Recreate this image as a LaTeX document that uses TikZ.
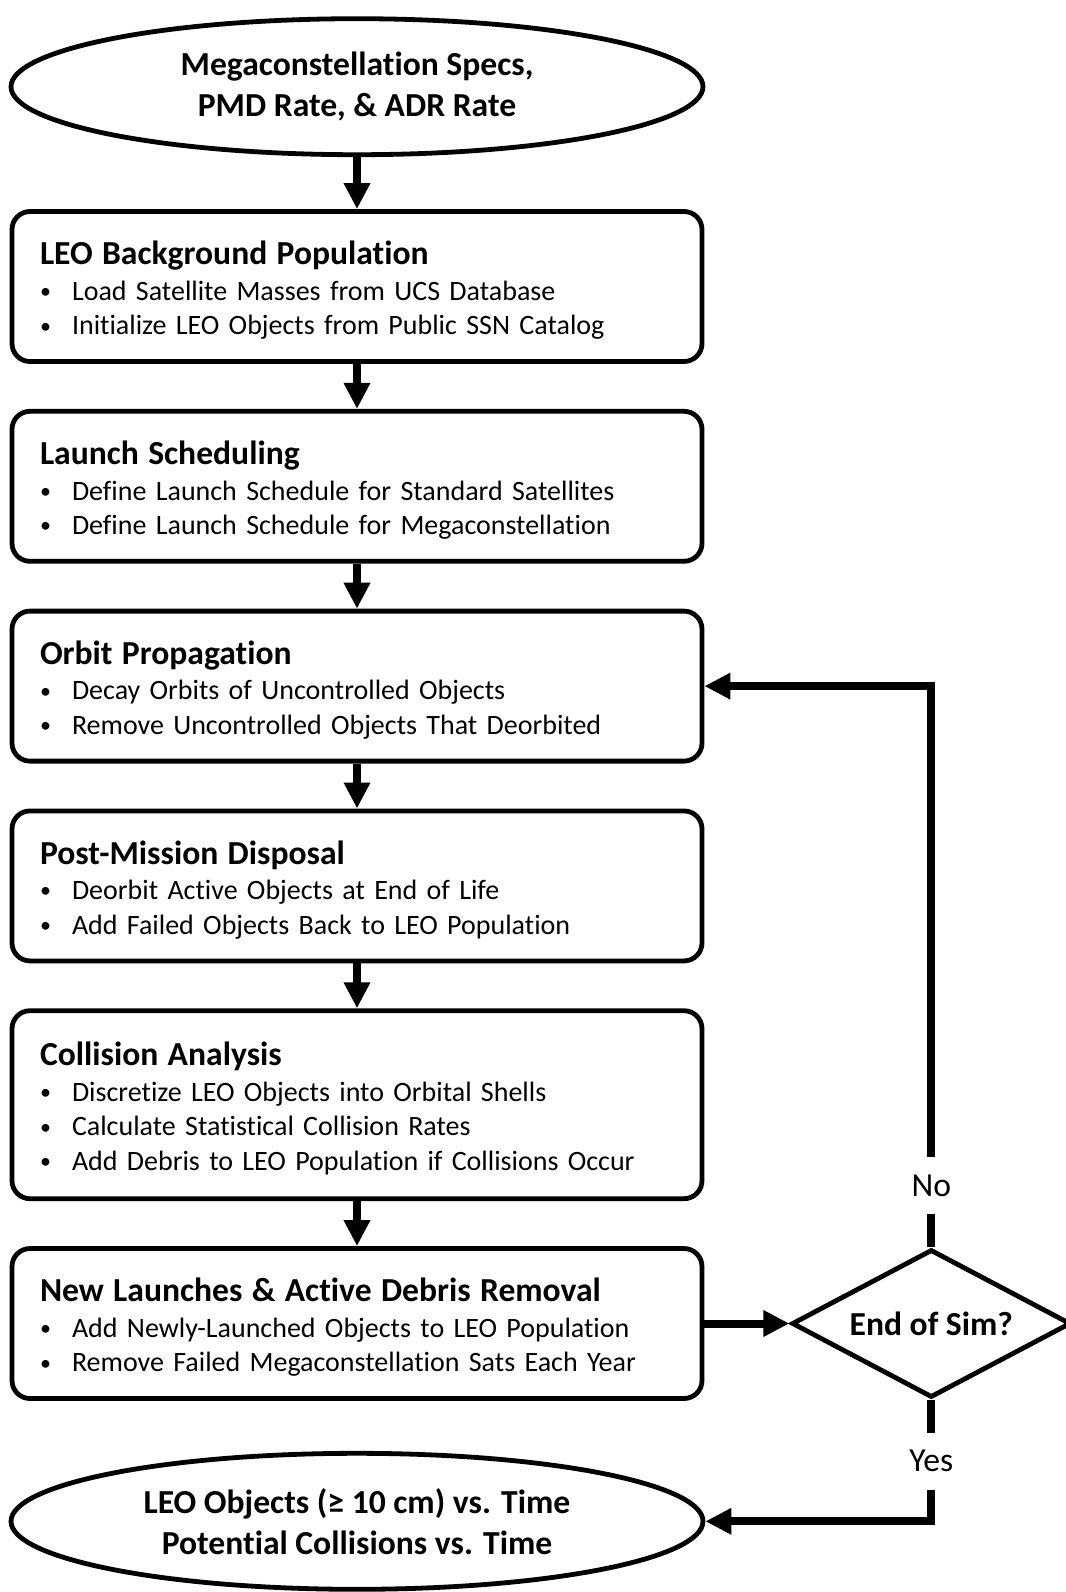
\documentclass[tikz,border=0pt]{standalone}
\usepackage{fontspec}
\setmainfont{Carlito}[Ligatures=NoCommon]
\usetikzlibrary{arrows.meta,positioning,shapes.geometric}
\newcommand{\itm}[1]{\makebox[16pt][l]{\raisebox{0.9pt}{\fontsize{11}{11}\selectfont\textbullet}}#1}
\newcommand{\hd}[1]{{\fontsize{16.8}{19}\selectfont\bfseries\rule{0pt}{15.6pt}#1}}
\tikzset{
  stepbox/.style={draw, line width=2.4pt, rounded corners=9pt, align=left, text width=317pt,
                  inner xsep=14pt, inner ysep=4pt, minimum height=75pt,
                  font=\fontsize{14}{17.3}\selectfont},
  term/.style={draw, ellipse, line width=2.4pt, minimum width=346pt, minimum height=68pt,
               align=center, inner sep=0pt, font=\fontsize{16.8}{20.5}\selectfont\bfseries},
  decide/.style={draw, diamond, shape aspect=1.9, line width=2.4pt, minimum width=139.5pt,
                 minimum height=74pt, inner sep=0pt, font=\fontsize{16.8}{20}\selectfont\bfseries},
  arr/.style={-{Triangle[length=13pt,width=12.5pt]}, line width=4pt},
  lnk/.style={line width=4pt},
  lbl/.style={font=\fontsize{16.8}{20}\selectfont, inner sep=0pt, minimum height=28pt},
}
\begin{document}
\begin{tikzpicture}[x=0.5pt, y=-0.5pt, node distance=22.5pt]
  \useasboundingbox (0,0) rectangle (1066,1592);
  \node[stepbox] (bg) at (357,286.5) {\hd{LEO Background Population}\\[0.5pt]
    \itm{Load Satellite Masses from UCS Database}\\
    \itm{Initialize LEO Objects from Public SSN Catalog}};
  \node[term, above=26pt of bg] (specs) {Megaconstellation Specs,\\PMD Rate, \& ADR Rate};
  \node[stepbox, below=of bg] (sched) {\hd{Launch Scheduling}\\[0.5pt]
    \itm{Define Launch Schedule for Standard Satellites}\\
    \itm{Define Launch Schedule for Megaconstellation}};
  \node[stepbox, below=of sched] (prop) {\hd{Orbit Propagation}\\[0.5pt]
    \itm{Decay Orbits of Uncontrolled Objects}\\
    \itm{Remove Uncontrolled Objects That Deorbited}};
  \node[stepbox, below=of prop] (pmd) {\hd{Post-Mission Disposal}\\[0.5pt]
    \itm{Deorbit Active Objects at End of Life}\\
    \itm{Add Failed Objects Back to LEO Population}};
  \node[stepbox, below=of pmd, minimum height=94pt] (coll) {\hd{Collision Analysis}\\[0.5pt]
    \itm{Discretize LEO Objects into Orbital Shells}\\
    \itm{Calculate Statistical Collision Rates}\\
    \itm{Add Debris to LEO Population if Collisions Occur}};
  \node[stepbox, below=of coll] (adr) {\hd{New Launches \& Active Debris Removal}\\[0.5pt]
    \itm{Add Newly-Launched Objects to LEO Population}\\
    \itm{Remove Failed Megaconstellation Sats Each Year}};
  \node[term, below=25pt of adr] (out) {LEO Objects (≥ 10 cm) vs. Time\\Potential Collisions vs. Time};
  \node[decide, right=42.5pt of adr] (end) {End of Sim?};
  \node[lbl, above=16.5pt of end] (no) {No};
  \node[lbl, below=16.5pt of end] (yes) {Yes};
  % main chain
  \draw[arr] (specs) -- (bg);
  \draw[arr] (bg) -- (sched);
  \draw[arr] (sched) -- (prop);
  \draw[arr] (prop) -- (pmd);
  \draw[arr] (pmd) -- (coll);
  \draw[arr] (coll) -- (adr);
  \draw[arr] (adr) -- (end);
  % loop back / finish
  \draw[lnk] (end) -- (no);
  \draw[arr] (no.north) |- (prop.east);
  \draw[lnk] (end) -- (yes);
  \draw[arr] (yes.south) |- (out.east);
\end{tikzpicture}
\end{document}
